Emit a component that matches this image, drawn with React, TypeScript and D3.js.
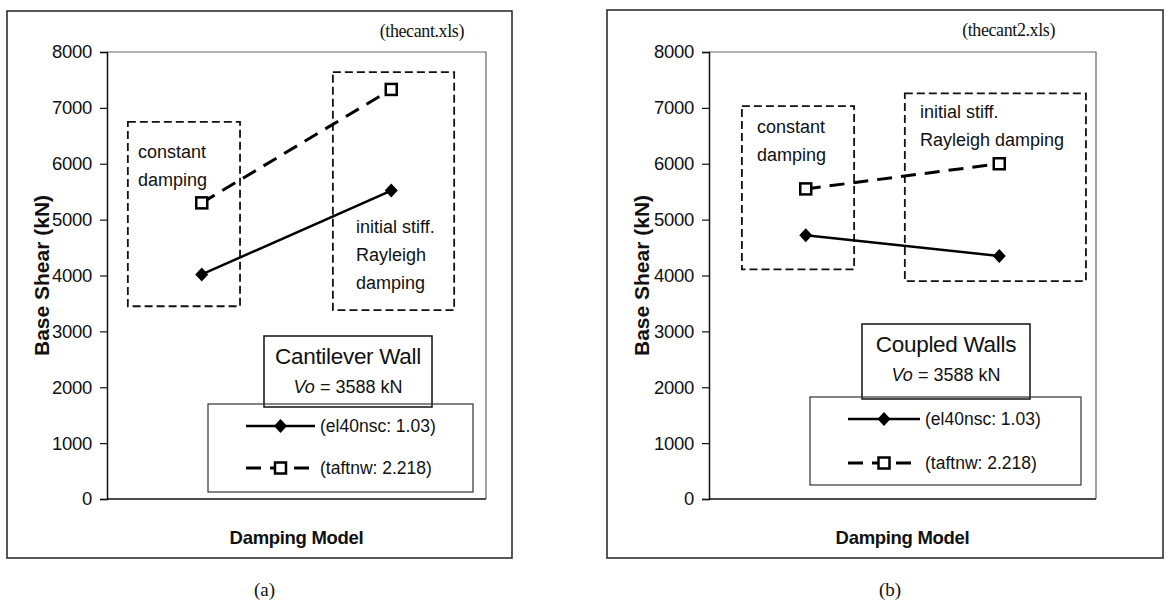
import React, { useEffect, useRef } from 'react';
import * as d3 from 'd3';

// categories on the x axis (no tick labels shown in the original)
const categories = ['constant', 'rayleigh'];
const yTicks = [0, 1000, 2000, 3000, 4000, 5000, 6000, 7000, 8000];

// base shear (kN)
const cantEl40 = [4020, 5520];
const cantTaft = [5300, 7330];
const coupledEl40 = [4720, 4350];
const coupledTaft = [5550, 6000];

const seriesNames = ['(el40nsc: 1.03)', '(taftnw: 2.218)'];

const SANS = 'Liberation Sans, Arial, sans-serif';
const SERIF = 'Liberation Serif, Times New Roman, serif';

type Box = { x0: number; x1: number; y0: number; y1: number; lines: string[]; tx: number; ty: number };

const cantBoxes: Box[] = [
  { x0: 0.055, x1: 0.351, y0: 3450, y1: 6750, lines: ['constant', 'damping'], tx: 0.082, ty: 6110 },
  { x0: 0.596, x1: 0.916, y0: 3380, y1: 7640, lines: ['initial stiff.', 'Rayleigh', 'damping'], tx: 0.657, ty: 4760 },
];
const coupledBoxes: Box[] = [
  { x0: 0.085, x1: 0.375, y0: 4110, y1: 7030, lines: ['constant', 'damping'], tx: 0.124, ty: 6550 },
  { x0: 0.506, x1: 0.974, y0: 3900, y1: 7260, lines: ['initial stiff.', 'Rayleigh damping'], tx: 0.545, ty: 6820 },
];

type PanelProps = {
  frame: [number, number, number, number];
  plot: [number, number, number, number];
  file: string;
  fileX: number;
  el40: number[];
  taft: number[];
  boxes: Box[];
  title: string;
  titleBox: [number, number, number, number];
  legendBox: [number, number, number, number];
  legendRows: [number, number];
  legendLine: [number, number];
  caption: string;
};

const Panel = (p: PanelProps) => {
  const ref = useRef<SVGGElement>(null);

  useEffect(() => {
    const g = d3.select(ref.current);
    g.selectAll('*').remove();

    const [pl, pt, pr, pb] = p.plot;
    const x = d3.scaleBand().domain(categories).range([pl, pr]);
    const y = d3.scaleLinear().domain([0, 8000]).range([pb, pt]);
    const fx = (f: number) => pl + f * (pr - pl);

    // outer frame
    const [fl, ft, fr, fb] = p.frame;
    g.append('rect').attr('x', fl).attr('y', ft).attr('width', fr - fl).attr('height', fb - ft)
      .attr('fill', 'none').attr('stroke', '#222').attr('stroke-width', 1.5);

    // plot area outline (top/right gray)
    g.append('path').attr('d', `M${pl},${pt}H${pr}V${pb}`).attr('fill', 'none')
      .attr('stroke', '#666').attr('stroke-width', 1.2);

    // y axis
    const yAxis = g.append('g').attr('transform', `translate(${pl},0)`)
      .call(d3.axisLeft(y).tickValues(yTicks).tickSize(7).tickPadding(8).tickFormat(d3.format('d')));
    yAxis.select('.domain').attr('stroke', '#111').attr('stroke-width', 1.5);
    yAxis.selectAll('.tick line').attr('stroke', '#111').attr('stroke-width', 1.2);
    yAxis.selectAll('.tick text').attr('font-family', SANS).attr('font-size', 18.5).attr('fill', '#111')
      .attr('letter-spacing', -0.3);

    // x axis baseline
    g.append('line').attr('x1', pl).attr('x2', pr).attr('y1', pb).attr('y2', pb)
      .attr('stroke', '#111').attr('stroke-width', 1.5);

    // axis titles
    g.append('text').attr('transform', `translate(${fl + 35},${(pt + pb) / 2}) rotate(-90)`)
      .attr('text-anchor', 'middle').attr('dy', '0.35em').attr('font-family', SANS).attr('font-weight', 'bold')
      .attr('font-size', 21).attr('fill', '#111').text('Base Shear (kN)');
    g.append('text').attr('x', (pl + pr) / 2).attr('y', pb + 45).attr('text-anchor', 'middle')
      .attr('font-family', SANS).attr('font-weight', 'bold').attr('font-size', 18.5).attr('fill', '#111')
      .attr('letter-spacing', -0.3).text('Damping Model');

    // file name
    g.append('text').attr('x', p.fileX).attr('y', ft + 26).attr('text-anchor', 'end')
      .attr('font-family', SERIF).attr('font-size', 18).attr('letter-spacing', -0.4)
      .attr('fill', '#111').text(p.file);

    // dashed annotation boxes
    p.boxes.forEach(b => {
      g.append('rect').attr('x', fx(b.x0)).attr('y', y(b.y1))
        .attr('width', fx(b.x1) - fx(b.x0)).attr('height', y(b.y0) - y(b.y1))
        .attr('fill', 'none').attr('stroke', '#111').attr('stroke-width', 1.8)
        .attr('stroke-dasharray', '8,4');
      b.lines.forEach((l, i) => {
        g.append('text').attr('x', fx(b.tx)).attr('y', y(b.ty) + i * 28)
          .attr('font-family', SANS).attr('font-size', 18).attr('fill', '#111').text(l);
      });
    });

    const cx = (i: number) => (x(categories[i]) as number) + x.bandwidth() / 2;
    const line = d3.line<number>().x((_, i) => cx(i)).y(d => y(d));

    g.append('path').datum(p.el40).attr('d', line).attr('fill', 'none')
      .attr('stroke', '#000').attr('stroke-width', 2.5);
    g.append('path').datum(p.taft).attr('d', line).attr('fill', 'none')
      .attr('stroke', '#000').attr('stroke-width', 3).attr('stroke-dasharray', '15,9');

    const diamond = (sel: any, cxv: number, cyv: number) =>
      sel.append('path').attr('d', `M${cxv},${cyv - 7}L${cxv + 6.5},${cyv}L${cxv},${cyv + 7}L${cxv - 6.5},${cyv}Z`)
        .attr('fill', '#000');
    const square = (sel: any, cxv: number, cyv: number) =>
      sel.append('rect').attr('x', cxv - 5.5).attr('y', cyv - 5.5).attr('width', 11).attr('height', 11)
        .attr('fill', '#fff').attr('stroke', '#000').attr('stroke-width', 2.5);

    p.el40.forEach((v, i) => diamond(g, cx(i), y(v)));
    p.taft.forEach((v, i) => square(g, cx(i), y(v)));

    // title box
    const [tl, tt, tr, tb] = p.titleBox;
    g.append('rect').attr('x', tl).attr('y', tt).attr('width', tr - tl).attr('height', tb - tt)
      .attr('fill', '#fff').attr('stroke', '#111').attr('stroke-width', 1.5);
    g.append('text').attr('x', (tl + tr) / 2).attr('y', tt + 28).attr('text-anchor', 'middle')
      .attr('font-family', SANS).attr('font-size', 22.5).attr('letter-spacing', -0.3)
      .attr('fill', '#111').text(p.title);
    const vo = g.append('text').attr('x', (tl + tr) / 2).attr('y', tt + 57).attr('text-anchor', 'middle')
      .attr('font-family', SANS).attr('font-size', 18).attr('fill', '#111');
    vo.append('tspan').attr('font-style', 'italic').text('Vo');
    vo.append('tspan').text(' = 3588 kN');

    // legend box
    const [ll, lt, lr, lb] = p.legendBox;
    g.append('rect').attr('x', ll).attr('y', lt).attr('width', lr - ll).attr('height', lb - lt)
      .attr('fill', 'none').attr('stroke', '#333').attr('stroke-width', 1.2);
    const [x0, x1] = p.legendLine;
    const mx = (x0 + x1) / 2;
    seriesNames.forEach((name, i) => {
      const ry = p.legendRows[i];
      g.append('line').attr('x1', x0).attr('x2', x1).attr('y1', ry).attr('y2', ry)
        .attr('stroke', '#000').attr('stroke-width', i === 0 ? 2.5 : 3)
        .attr('stroke-dasharray', i === 0 ? null : '15,9');
      if (i === 0) diamond(g, mx, ry); else square(g, mx, ry);
      g.append('text').attr('x', x1 + 5).attr('y', ry + 6)
        .attr('font-family', SANS).attr('font-size', 17.5).attr('fill', '#111').text(name);
    });

    // caption
    g.append('text').attr('x', (fl + fr) / 2 + 5).attr('y', 596).attr('text-anchor', 'middle')
      .attr('font-family', SERIF).attr('font-size', 19).attr('fill', '#111').text(p.caption);
  }, [p]);

  return <g ref={ref} />;
};

export default function App() {
  return (
    <svg width={1170} height={609} style={{ position: 'absolute', left: 0, top: 0, background: '#fff' }}>
      <Panel
        frame={[7, 11, 512, 558]} plot={[107, 52, 486, 499]}
        file="(thecant.xls)" fileX={464}
        el40={cantEl40} taft={cantTaft} boxes={cantBoxes}
        title="Cantilever Wall" titleBox={[264, 336, 432, 407]}
        legendBox={[208, 404, 473, 492]} legendRows={[426, 468]} legendLine={[246, 315]}
        caption="(a)"
      />
      <Panel
        frame={[607, 10, 1163, 558]} plot={[709, 52, 1096, 499]}
        file="(thecant2.xls)" fileX={1055}
        el40={coupledEl40} taft={coupledTaft} boxes={coupledBoxes}
        title="Coupled Walls" titleBox={[862, 324, 1030, 399]}
        legendBox={[810, 397, 1081, 485]} legendRows={[419, 463]} legendLine={[848, 920]}
        caption="(b)"
      />
    </svg>
  );
}
